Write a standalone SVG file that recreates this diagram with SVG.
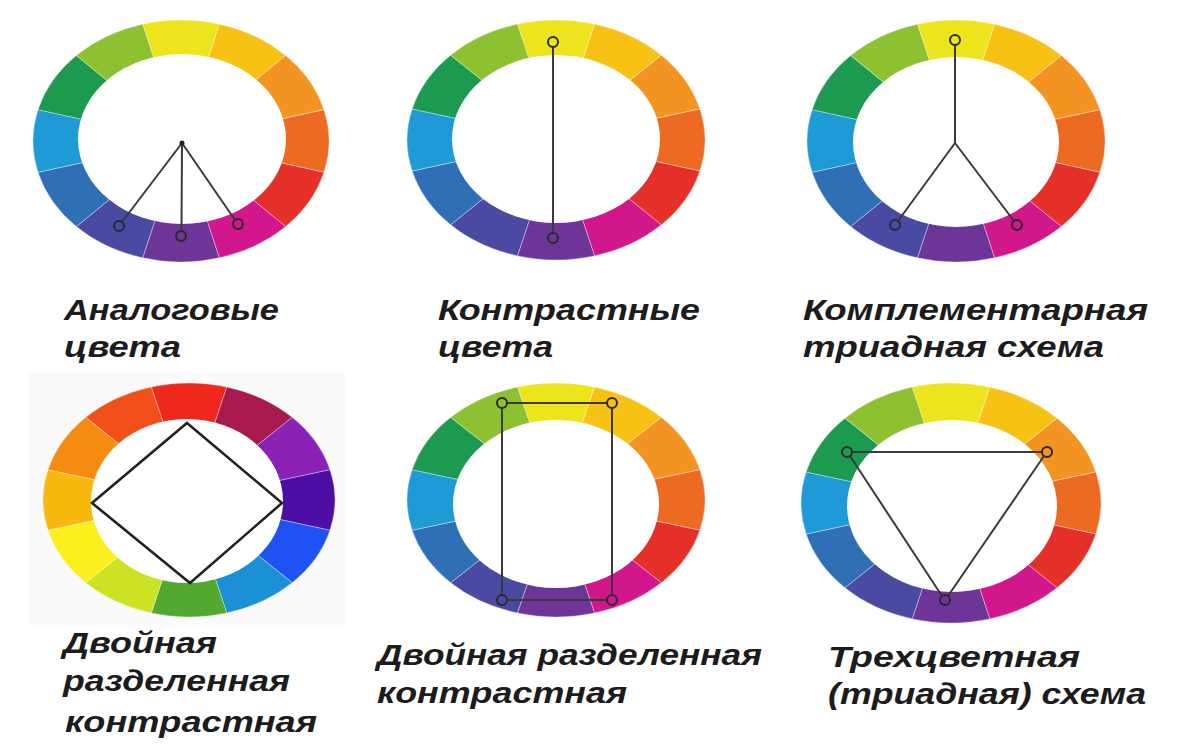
<svg xmlns="http://www.w3.org/2000/svg" xmlns:xlink="http://www.w3.org/1999/xlink" width="1177" height="751" viewBox="0 0 1177 751">
<style>
.seg{stroke:#ffffff;stroke-opacity:0.35;stroke-width:1;vector-effect:non-scaling-stroke}
.hole{fill:#ffffff}
.ln{stroke:#3a3a3a;stroke-width:2;fill:none;stroke-linecap:round}
.dia{stroke:#222222;stroke-width:2.6;fill:none;stroke-linejoin:miter}
.mk{stroke:#2a2a2a;stroke-width:2;fill:none}
.lbl{font-family:"Liberation Sans",Arial,sans-serif;font-style:italic;font-weight:bold;font-size:30px;fill:#1c1c1c}
</style>
<defs>
<path id="s0" class="seg" d="M0 0 L-25.88 -96.59 A100 100 0 0 1 25.88 -96.59 Z"/>
<path id="s1" class="seg" d="M0 0 L25.88 -96.59 A100 100 0 0 1 70.71 -70.71 Z"/>
<path id="s2" class="seg" d="M0 0 L70.71 -70.71 A100 100 0 0 1 96.59 -25.88 Z"/>
<path id="s3" class="seg" d="M0 0 L96.59 -25.88 A100 100 0 0 1 96.59 25.88 Z"/>
<path id="s4" class="seg" d="M0 0 L96.59 25.88 A100 100 0 0 1 70.71 70.71 Z"/>
<path id="s5" class="seg" d="M0 0 L70.71 70.71 A100 100 0 0 1 25.88 96.59 Z"/>
<path id="s6" class="seg" d="M0 0 L25.88 96.59 A100 100 0 0 1 -25.88 96.59 Z"/>
<path id="s7" class="seg" d="M0 0 L-25.88 96.59 A100 100 0 0 1 -70.71 70.71 Z"/>
<path id="s8" class="seg" d="M0 0 L-70.71 70.71 A100 100 0 0 1 -96.59 25.88 Z"/>
<path id="s9" class="seg" d="M0 0 L-96.59 25.88 A100 100 0 0 1 -96.59 -25.88 Z"/>
<path id="s10" class="seg" d="M0 0 L-96.59 -25.88 A100 100 0 0 1 -70.71 -70.71 Z"/>
<path id="s11" class="seg" d="M0 0 L-70.71 -70.71 A100 100 0 0 1 -25.88 -96.59 Z"/>
<g id="stdwheel">
<use href="#s0" fill="#eee41c"/>
<use href="#s1" fill="#f8c215"/>
<use href="#s2" fill="#f39422"/>
<use href="#s3" fill="#ec6a22"/>
<use href="#s4" fill="#e5302a"/>
<use href="#s5" fill="#d2178c"/>
<use href="#s6" fill="#6e3599"/>
<use href="#s7" fill="#4a4aa3"/>
<use href="#s8" fill="#2e6fb6"/>
<use href="#s9" fill="#1e9bd6"/>
<use href="#s10" fill="#1c9a4f"/>
<use href="#s11" fill="#8dc131"/>
</g>
<g id="altwheel">
<use href="#s0" fill="#f0281b"/>
<use href="#s1" fill="#a8194d"/>
<use href="#s2" fill="#8a22b8"/>
<use href="#s3" fill="#4c0ea5"/>
<use href="#s4" fill="#1e52f2"/>
<use href="#s5" fill="#1b90d6"/>
<use href="#s6" fill="#52a831"/>
<use href="#s7" fill="#cce224"/>
<use href="#s8" fill="#f9f01e"/>
<use href="#s9" fill="#f8b80d"/>
<use href="#s10" fill="#f68b12"/>
<use href="#s11" fill="#f24e1a"/>
</g>
</defs>
<rect width="1177" height="751" fill="#ffffff"/>
<rect x="28" y="372" width="317" height="253" fill="#fafafa"/>

<g id="wheel-analog">
<use href="#stdwheel" transform="translate(181,141) scale(1.48,1.21)"/>
<ellipse class="hole" cx="182" cy="139" rx="104" ry="85"/>
<text class="lbl" x="64" y="320" textLength="215" lengthAdjust="spacingAndGlyphs">Аналоговые</text>
<text class="lbl" x="64" y="357" textLength="117" lengthAdjust="spacingAndGlyphs">цвета</text>
</g>

<g id="wheel-contrast">
<use href="#stdwheel" transform="translate(556,140) scale(1.49,1.20)"/>
<ellipse class="hole" cx="556" cy="139" rx="104" ry="84"/>
<text class="lbl" x="438" y="320" textLength="262" lengthAdjust="spacingAndGlyphs">Контрастные</text>
<text class="lbl" x="438" y="357" textLength="115" lengthAdjust="spacingAndGlyphs">цвета</text>
</g>

<g id="wheel-complementary-triad">
<use href="#stdwheel" transform="translate(956,141) scale(1.49,1.21)"/>
<ellipse class="hole" cx="956" cy="142" rx="103" ry="85"/>
<text class="lbl" x="803" y="320" textLength="345" lengthAdjust="spacingAndGlyphs">Комплементарная</text>
<text class="lbl" x="803" y="357" textLength="301" lengthAdjust="spacingAndGlyphs">триадная схема</text>
</g>

<g id="wheel-double-split">
<use href="#altwheel" transform="translate(189,500) scale(1.46,1.17)"/>
<ellipse class="hole" cx="187" cy="501" rx="96" ry="82"/>
<text class="lbl" x="63" y="653" textLength="154" lengthAdjust="spacingAndGlyphs">Двойная</text>
<text class="lbl" x="63" y="691" textLength="227" lengthAdjust="spacingAndGlyphs">разделенная</text>
<text class="lbl" x="65" y="732" textLength="252" lengthAdjust="spacingAndGlyphs">контрастная</text>
</g>

<g id="wheel-double-split-2">
<use href="#stdwheel" transform="translate(556,500) scale(1.49,1.17)"/>
<ellipse class="hole" cx="556" cy="504" rx="103" ry="84"/>
<text class="lbl" x="377" y="665" textLength="385" lengthAdjust="spacingAndGlyphs">Двойная разделенная</text>
<text class="lbl" x="377" y="703" textLength="250" lengthAdjust="spacingAndGlyphs">контрастная</text>
</g>

<g id="wheel-triad">
<use href="#stdwheel" transform="translate(951,503) scale(1.50,1.20)"/>
<ellipse class="hole" cx="952" cy="506" rx="105" ry="86"/>
<text class="lbl" x="828" y="667" textLength="252" lengthAdjust="spacingAndGlyphs">Трехцветная</text>
<text class="lbl" x="828" y="704" textLength="318" lengthAdjust="spacingAndGlyphs">(триадная) схема</text>
</g>

<g id="connectors">
<line class="ln" x1="182" y1="143" x2="122" y2="222"/>
<line class="ln" x1="182" y1="143" x2="181.5" y2="231"/>
<line class="ln" x1="182" y1="143" x2="235" y2="220"/>
<circle cx="182" cy="143" r="2.5" fill="#222"/>
<circle class="mk" cx="119" cy="226" r="5"/>
<circle class="mk" cx="181" cy="236" r="5"/>
<circle class="mk" cx="238" cy="224" r="5"/>
<line class="ln" x1="553" y1="47" x2="553" y2="233"/>
<circle class="mk" cx="553" cy="42" r="5"/>
<circle class="mk" cx="553" cy="238" r="5"/>
<line class="ln" x1="955" y1="45" x2="955" y2="143"/>
<line class="ln" x1="955" y1="143" x2="898" y2="221"/>
<line class="ln" x1="955" y1="143" x2="1014" y2="221"/>
<circle class="mk" cx="955" cy="40" r="5"/>
<circle class="mk" cx="895" cy="225" r="5"/>
<circle class="mk" cx="1017" cy="225" r="5"/>
<polygon class="dia" points="187,423 282,503 190,583 92,503"/>
<line class="ln" x1="507" y1="403" x2="607" y2="403"/>
<line class="ln" x1="507" y1="600" x2="607" y2="600"/>
<line class="ln" x1="502" y1="408" x2="502" y2="595"/>
<line class="ln" x1="612" y1="408" x2="612" y2="595"/>
<circle class="mk" cx="502" cy="403" r="5"/>
<circle class="mk" cx="612" cy="403" r="5"/>
<circle class="mk" cx="502" cy="600" r="5"/>
<circle class="mk" cx="612" cy="600" r="5"/>
<line class="ln" x1="852" y1="452" x2="1042" y2="452"/>
<line class="ln" x1="850" y1="456" x2="942" y2="596"/>
<line class="ln" x1="1044" y1="456" x2="948" y2="596"/>
<circle class="mk" cx="847" cy="452" r="5"/>
<circle class="mk" cx="1047" cy="452" r="5"/>
<circle class="mk" cx="945" cy="600" r="5"/>
</g>
</svg>
